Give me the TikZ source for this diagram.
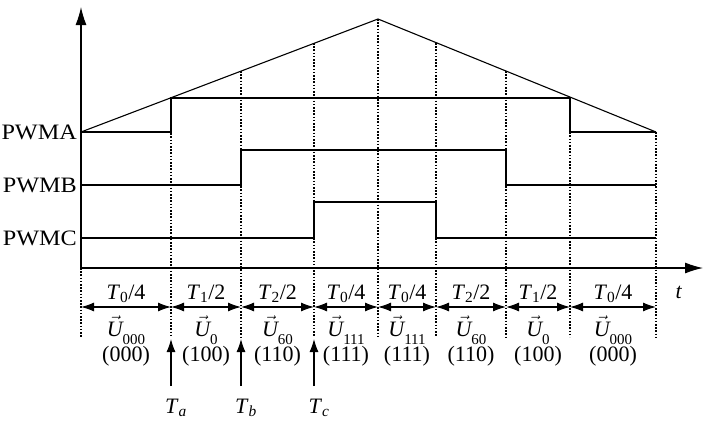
\documentclass[tikz,border=0pt]{standalone}
\usepackage{fontspec}
\setmainfont{Liberation Serif}
\usetikzlibrary{arrows.meta}
\begin{document}
\begin{tikzpicture}[x=1pt,y=-1pt,
  sig/.style={line width=1.1pt},
  dots/.style={line width=1.1pt, dash pattern=on 1.6pt off 1.6pt},
  lbl/.style={font=\fontsize{22}{22}\selectfont, inner sep=0pt},
  plbl/.style={font=\addfontfeatures{FakeStretch=1.1}\fontsize{22}{22}\selectfont, inner sep=0pt},
  dbl/.style={line width=1.1pt, {Latex[length=13pt,width=9pt]}-{Latex[length=13pt,width=9pt]}},
  up/.style={line width=1.1pt, -{Latex[length=13pt,width=9pt]}},
  axis/.style={line width=1.2pt, -{Latex[length=18pt,width=11pt]}}]
\useasboundingbox (0,0) rectangle (704,423);

% dotted verticals
\foreach \x/\t [count=\i from 0] in {81/268,171/98,241/71,314/43,378/19,436/43,506/71,570/97,656/132} {
  \coordinate (v\i) at (\x,\t);
  \coordinate (b\i) at (\x,337);
  \coordinate (d\i) at (\x,307);
}
\foreach \i in {0,...,8} \draw[dots] (v\i) -- (b\i);

% axes
\coordinate (O) at (81,268);
\coordinate (Ytop) at (81,7);
\coordinate (Tend) at (703,268);
\draw[axis] (O) -- (Ytop);
\draw[axis] (O) -- (Tend);
\node[lbl, anchor=base] (tlab) at (679,298) {\textit{t}};

% triangle carrier
\coordinate (c0) at (81,132);
\coordinate (cp) at (378,19);
\coordinate (c1) at (656,132);
\draw[sig] (c0) -- (cp) -- (c1);

% PWM signals
\draw[sig] (81,132) -- (171,132) -- (171,98) -- (570,98) -- (570,132) -- (656,132);
\draw[sig] (81,185) -- (241,185) -- (241,150) -- (506,150) -- (506,185) -- (656,185);
\draw[sig] (81,238) -- (314,238) -- (314,202) -- (436,202) -- (436,238) -- (656,238);

\node[plbl, anchor=east] (pa) at (77,132) {PWMA};
\node[plbl, anchor=east] (pb) at (77,185) {PWMB};
\node[plbl, anchor=east] (pc) at (77,238) {PWMC};

% interval double arrows
\foreach \i [evaluate=\i as \j using int(\i+1)] in {0,...,7} \draw[dbl] (d\i) -- (d\j);

% interval labels
\foreach \m/\a/\b/\U/\C [count=\k] in {126/0/4/000/000, 206/1/2/0/100, 277.5/2/2/60/110, 346/0/4/111/111, 407/0/4/111/111, 471/2/2/60/110, 538/1/2/0/100, 613/0/4/000/000} {
  \node[lbl, anchor=base] (tl\k) at (\m,299) {\textit{T}\textsubscript{\a}/\b};
  \node[lbl, anchor=base] (ul\k) at (\m,336) {$\vec{\mbox{\itshape U}}$\raisebox{-8pt}{\fontsize{15}{15}\selectfont\U}};
  \node[lbl, anchor=base] (cl\k) at (\m,361) {(\C)};
}

% switching instants
\foreach \x/\s [count=\k] in {171/a,241/b,314/c} {
  \coordinate (s\k) at (\x,386);
  \coordinate (e\k) at (\x,339);
  \draw[up] (s\k) -- (e\k);
  \node[lbl, anchor=base] (T\s) at (\x+5,413) {\textit{T}\textsubscript{\textit{\s}}};
}
\end{tikzpicture}
\end{document}
